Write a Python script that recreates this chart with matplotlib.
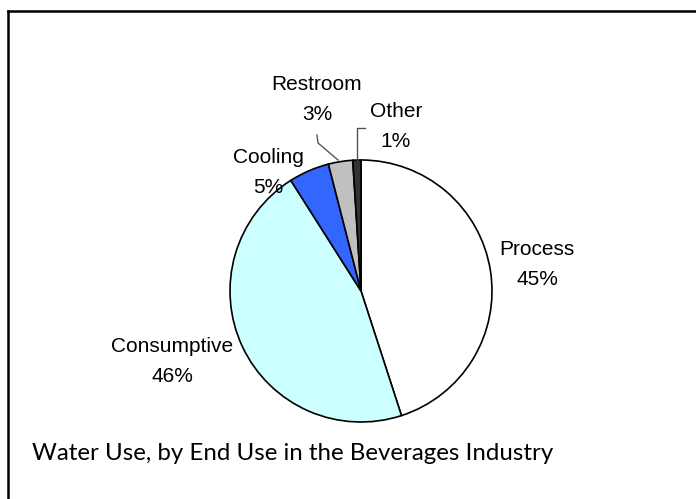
import matplotlib
matplotlib.use("Agg")
import matplotlib.pyplot as plt
from matplotlib.lines import Line2D

# End-use shares of water in the beverages industry (%)
categories = ["Process", "Consumptive", "Cooling", "Restroom", "Other"]
shares = [45, 46, 5, 3, 1]
colors = ["#FFFFFF", "#CCFFFF", "#3366FF", "#C0C0C0", "#333333"]
caption = "Water Use, by End Use in the Beverages Industry"

W, H = 696, 499
fig = plt.figure(figsize=(W / 100, H / 100), dpi=100)
ax = fig.add_axes([0, 0, 1, 1])

# pie drawn in pixel-like coordinates; y axis inverted, so angles run mirrored
cx, cy, r = 361, 291, 131
ax.pie(shares, colors=colors, startangle=-90, counterclock=True,
       center=(cx, cy), radius=r, frame=True,
       wedgeprops=dict(edgecolor="black", linewidth=1.2))
ax.set_xlim(0, W)
ax.set_ylim(H, 0)
ax.set_aspect("equal")
ax.axis("off")

# label anchor (x, baseline of name line); percentage line sits 30 px lower
label_pos = {
    "Process": (537, 255),
    "Consumptive": (172, 352),
    "Cooling": (268, 163),
    "Restroom": (317, 90),
    "Other": (396, 117),
}
font = dict(family="Liberation Sans", fontsize=15, color="black")
for name, val in zip(categories, shares):
    x, y = label_pos[name]
    ax.text(x, y, name, ha="center", va="baseline", **font)
    ax.text(x, y + 30, f"{val}%", ha="center", va="baseline", **font)

# leader lines for the two thin slices
ax.plot([317, 318, 338], [135, 143, 160], color="#555555", lw=1.0)
ax.plot([365, 357, 357], [128, 128, 160], color="#555555", lw=1.0)

# caption, fitted to its line width
t = ax.text(32, 460, caption, ha="left", va="baseline",
            family="Lato", fontsize=16, color="black")
fig.canvas.draw()
w = t.get_window_extent().width
t.set_fontsize(16 * 522 / w)

# page frame running off the right and bottom edges
fig.add_artist(Line2D([7.5 / W, 1.01], [1 - 10.5 / H] * 2, transform=fig.transFigure,
                      color="black", lw=1.8))
fig.add_artist(Line2D([7.5 / W] * 2, [-0.01, 1 - 10.5 / H], transform=fig.transFigure,
                      color="black", lw=1.8))

fig.savefig("out.png", dpi=100)
